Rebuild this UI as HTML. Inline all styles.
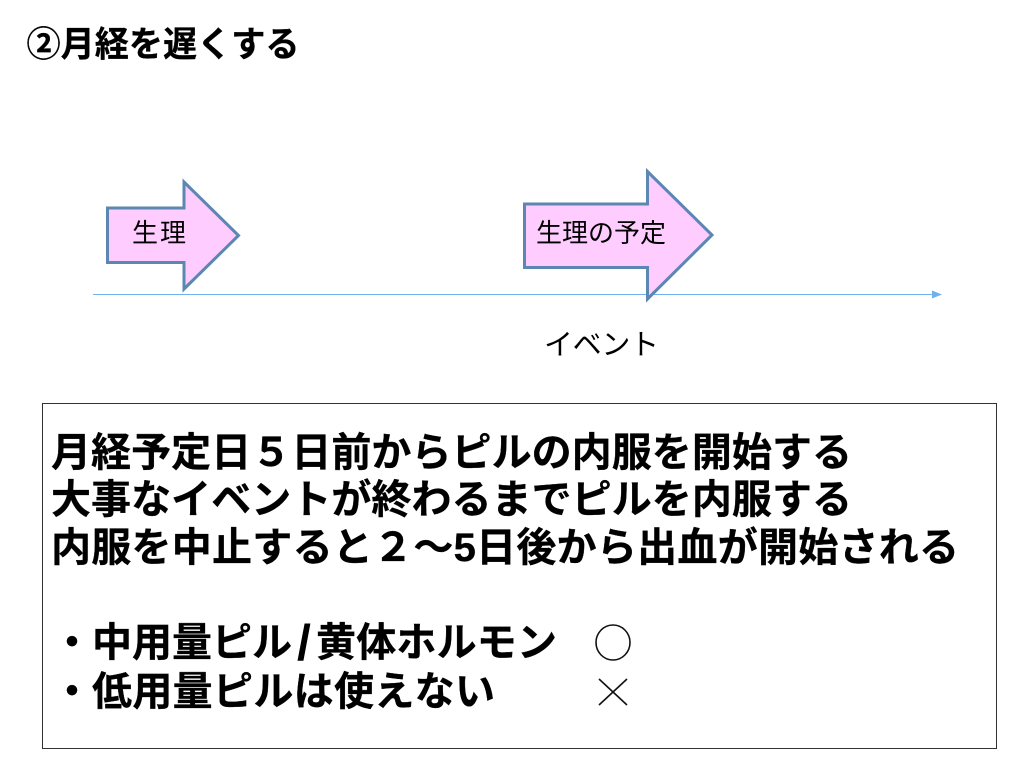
<!DOCTYPE html>
<html lang="ja">
<head>
<meta charset="utf-8">
<title>月経を遅くする</title>
<style>
html,body{margin:0;padding:0;background:#fff;}
body{width:1024px;height:768px;overflow:hidden;position:relative;font-family:"Liberation Sans","Noto Sans CJK JP",sans-serif;}
svg{position:absolute;left:0;top:0;}
</style>
</head>
<body>
<svg width="1024" height="768" viewBox="0 0 1024 768">
  <rect x="42.5" y="403.5" width="954" height="345" fill="#fff" stroke="#333" stroke-width="1"/>
  <line x1="93" y1="294.5" x2="934" y2="294.5" stroke="#6fb1ec" stroke-width="1"/>
  <polygon points="942,294.5 932,290.5 932,298.5" fill="#6fb1ec"/>
  <polygon points="107.5,208 184,208 184,182 238.5,235.5 184,289 184,262.5 107.5,262.5" fill="#ffccff" stroke="#5b87b2" stroke-width="3"/>
  <polygon points="524.5,204 647.5,204 647.5,171.5 712,235 647.5,299 647.5,267.5 524.5,267.5" fill="#ffccff" stroke="#5b87b2" stroke-width="3"/>
  <text x="26.5" y="56.5" font-size="35" font-weight="700" textLength="273" lengthAdjust="spacingAndGlyphs" stroke="#000" stroke-width="0.3" font-family="'Liberation Sans','Noto Sans CJK JP',sans-serif">②月経を遅くする</text>
  <g font-weight="400" font-family="'Liberation Sans','Noto Sans CJK JP',sans-serif">
    <text x="132" y="242" font-size="26" textLength="54">生理</text>
    <text x="536" y="242" font-size="26" textLength="130">生理の予定</text>
    <text x="544" y="354.5" font-size="29" textLength="115">イベント</text>
  </g>
  <g font-size="40" font-weight="700" stroke="#000" stroke-width="0.3" font-family="'Liberation Sans','Noto Sans CJK JP',sans-serif">
    <text x="51" y="466" textLength="801">月経予定日５日前からピルの内服を開始する</text>
    <text x="51" y="513" textLength="801">大事なイベントが終わるまでピルを内服する</text>
    <text x="51" y="561" textLength="908">内服を中止すると２～5日後から出血が開始される</text>
    <text x="52" y="656">・</text>
    <text x="92" y="656" textLength="200">中用量ピル</text>
    <text x="297" y="660" font-size="50" stroke-width="0">/</text>
    <text x="316" y="656" textLength="241">黄体ホルモン</text>
    <text x="52" y="705">・</text>
    <text x="92" y="705" textLength="403">低用量ピルは使えない</text>
  </g>
  <ellipse cx="613" cy="642.5" rx="17" ry="17.5" fill="none" stroke="#111" stroke-width="1.6"/>
  <line x1="599" y1="679" x2="627" y2="705" stroke="#111" stroke-width="1.6"/>
  <line x1="627" y1="679" x2="599" y2="705" stroke="#111" stroke-width="1.6"/>
</svg>
</body>
</html>
